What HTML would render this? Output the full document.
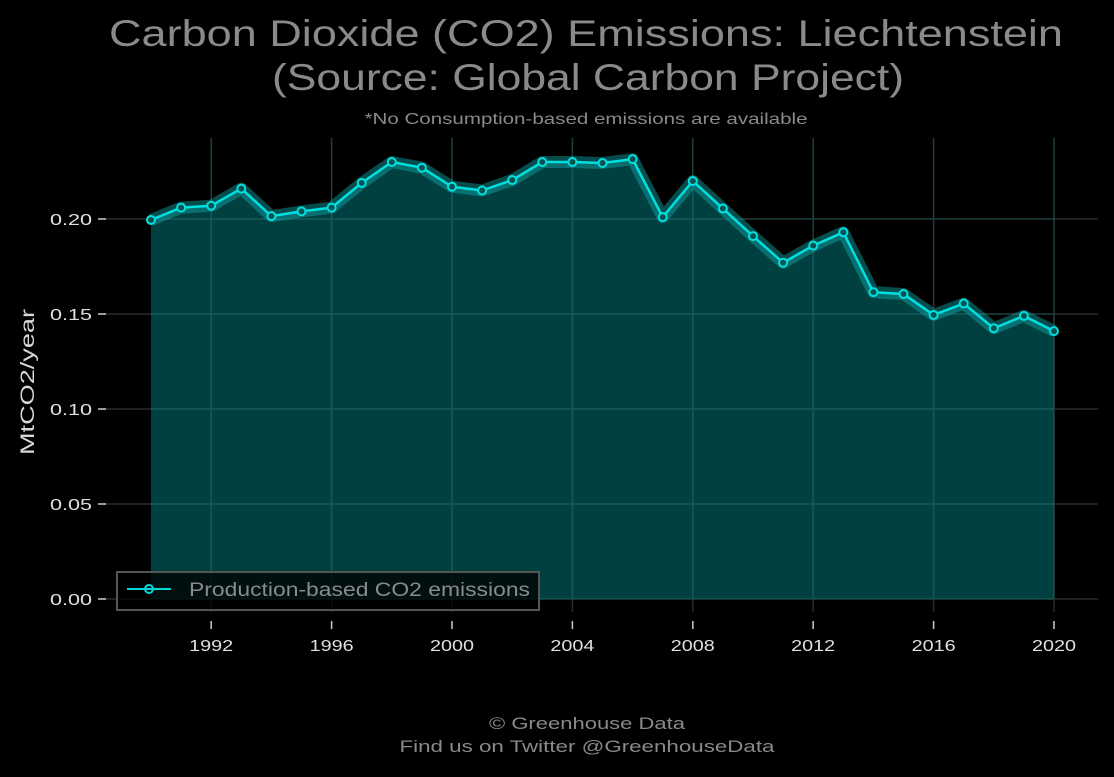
<!DOCTYPE html>
<html><head><meta charset="utf-8"><style>
body{margin:0;background:#000;width:1114px;height:772px;overflow:hidden;font-family:"Liberation Sans",sans-serif}
</style></head><body>
<svg id="chart" width="1114" height="772" xmlns="http://www.w3.org/2000/svg" font-family="Liberation Sans, sans-serif">
<text x="586" y="46" fill="#8a8a8a" font-size="37" text-anchor="middle" textLength="954" lengthAdjust="spacingAndGlyphs">Carbon Dioxide (CO2) Emissions: Liechtenstein</text>
<text x="588" y="90" fill="#8a8a8a" font-size="37" text-anchor="middle" textLength="632" lengthAdjust="spacingAndGlyphs">(Source: Global Carbon Project)</text>
<text x="586" y="124" fill="#8a8a8a" font-size="16" text-anchor="middle" textLength="443" lengthAdjust="spacingAndGlyphs">*No Consumption-based emissions are available</text>
<g id="grid"></g>
<g id="series"></g>
<g id="axes"></g>
<text transform="translate(34,382) rotate(-90)" fill="#d8d8d8" font-size="19" text-anchor="middle" textLength="146" lengthAdjust="spacingAndGlyphs">MtCO2/year</text>
<g>
<rect x="117" y="572" width="422" height="38" fill="#000" fill-opacity="0.75" stroke="#555" stroke-width="2"/>
<line x1="127" y1="589" x2="171" y2="589" stroke="#00d8d8" stroke-width="2"/>
<circle cx="149" cy="589" r="4" fill="none" stroke="#00d8d8" stroke-width="2"/>
<text x="189" y="596" fill="#8a8a8a" font-size="19" textLength="341" lengthAdjust="spacingAndGlyphs">Production-based CO2 emissions</text>
</g>
<text x="587" y="729" fill="#8a8a8a" font-size="17" text-anchor="middle" textLength="196" lengthAdjust="spacingAndGlyphs">© Greenhouse Data</text>
<text x="587" y="752" fill="#8a8a8a" font-size="17" text-anchor="middle" textLength="375" lengthAdjust="spacingAndGlyphs">Find us on Twitter @GreenhouseData</text>
</svg>
<script>
const years=[1990,1991,1992,1993,1994,1995,1996,1997,1998,1999,2000,2001,2002,2003,2004,2005,2006,2007,2008,2009,2010,2011,2012,2013,2014,2015,2016,2017,2018,2019,2020];
const values=[0.1995,0.206,0.207,0.216,0.2015,0.204,0.206,0.219,0.230,0.227,0.217,0.215,0.2205,0.230,0.230,0.2295,0.2315,0.201,0.220,0.2055,0.191,0.177,0.186,0.193,0.1615,0.1605,0.1495,0.1555,0.1425,0.149,0.141];
const xTicks=[1992,1996,2000,2004,2008,2012,2016,2020];
const yTicks=[0,0.05,0.10,0.15,0.20];
const yTickLabels=["0.00","0.05","0.10","0.15","0.20"];
const NS="http://www.w3.org/2000/svg";
const x=v=>151+(v-1990)*(1054-151)/30;
const y=v=>599-v*1900;
function mk(parent,tag,attrs){const e=document.createElementNS(NS,tag);for(const k in attrs)e.setAttribute(k,attrs[k]);document.getElementById(parent).appendChild(e);return e;}
yTicks.forEach((t,i)=>{
 const g=mk('grid','line',{x1:103,x2:1098,y1:y(t),y2:y(t),stroke:'#2a2a2a','stroke-width':1.5});
 
 
 const tk=mk('axes','line',{x1:98,x2:106,y1:y(t),y2:y(t),stroke:'#ccc','stroke-width':1.5});
 
 
 const l=mk('axes','text',{x:92,y:y(t)+6,fill:'#e0e0e0','font-size':16,'text-anchor':'end',textLength:42,lengthAdjust:'spacingAndGlyphs'});
 l.textContent=yTickLabels[i];
 
 
});
xTicks.forEach(t=>{
 const g=mk('grid','line',{x1:x(t),x2:x(t),y1:138,y2:612,stroke:'#2a2a2a','stroke-width':1.5});
 
 
 const tk=mk('axes','line',{x1:x(t),x2:x(t),y1:621,y2:629,stroke:'#ccc','stroke-width':1.5});
 
 
 const l=mk('axes','text',{x:x(t),y:651,fill:'#e0e0e0','font-size':16,'text-anchor':'middle',textLength:44,lengthAdjust:'spacingAndGlyphs'});
 l.textContent=t;
 
 
});
let pts=years.map((yr,i)=>x(yr)+','+y(values[i])).join(' ');
const area=mk('series','polygon',{points:x(years[0])+','+y(0)+' '+pts+' '+x(years[years.length-1])+','+y(0),fill:'#00a0a0','fill-opacity':0.4});


yTicks.forEach(t=>mk('series','line',{x1:x(1990),x2:x(2020),y1:y(t),y2:y(t),stroke:'#0e5a5a','stroke-width':1.5,'stroke-opacity':0.4}));
xTicks.forEach(t=>mk('series','line',{x1:x(t),x2:x(t),y1:y(0),y2:138,stroke:'#0e5a5a','stroke-width':1.5,'stroke-opacity':0.4}));
const glow=mk('series','polyline',{points:pts,fill:'none',stroke:'#10a8a8','stroke-width':12,'stroke-opacity':0.45,'stroke-linejoin':'round'});


const line=mk('series','polyline',{points:pts,fill:'none',stroke:'#00e0e0','stroke-width':2.5,'stroke-linejoin':'round'});


years.forEach((yr,i)=>{
 const c=mk('series','circle',{cx:x(yr),cy:y(values[i]),r:4,fill:'#0a5050',stroke:'#00e0e0','stroke-width':2});
 
 
});
</script>
</body></html>
